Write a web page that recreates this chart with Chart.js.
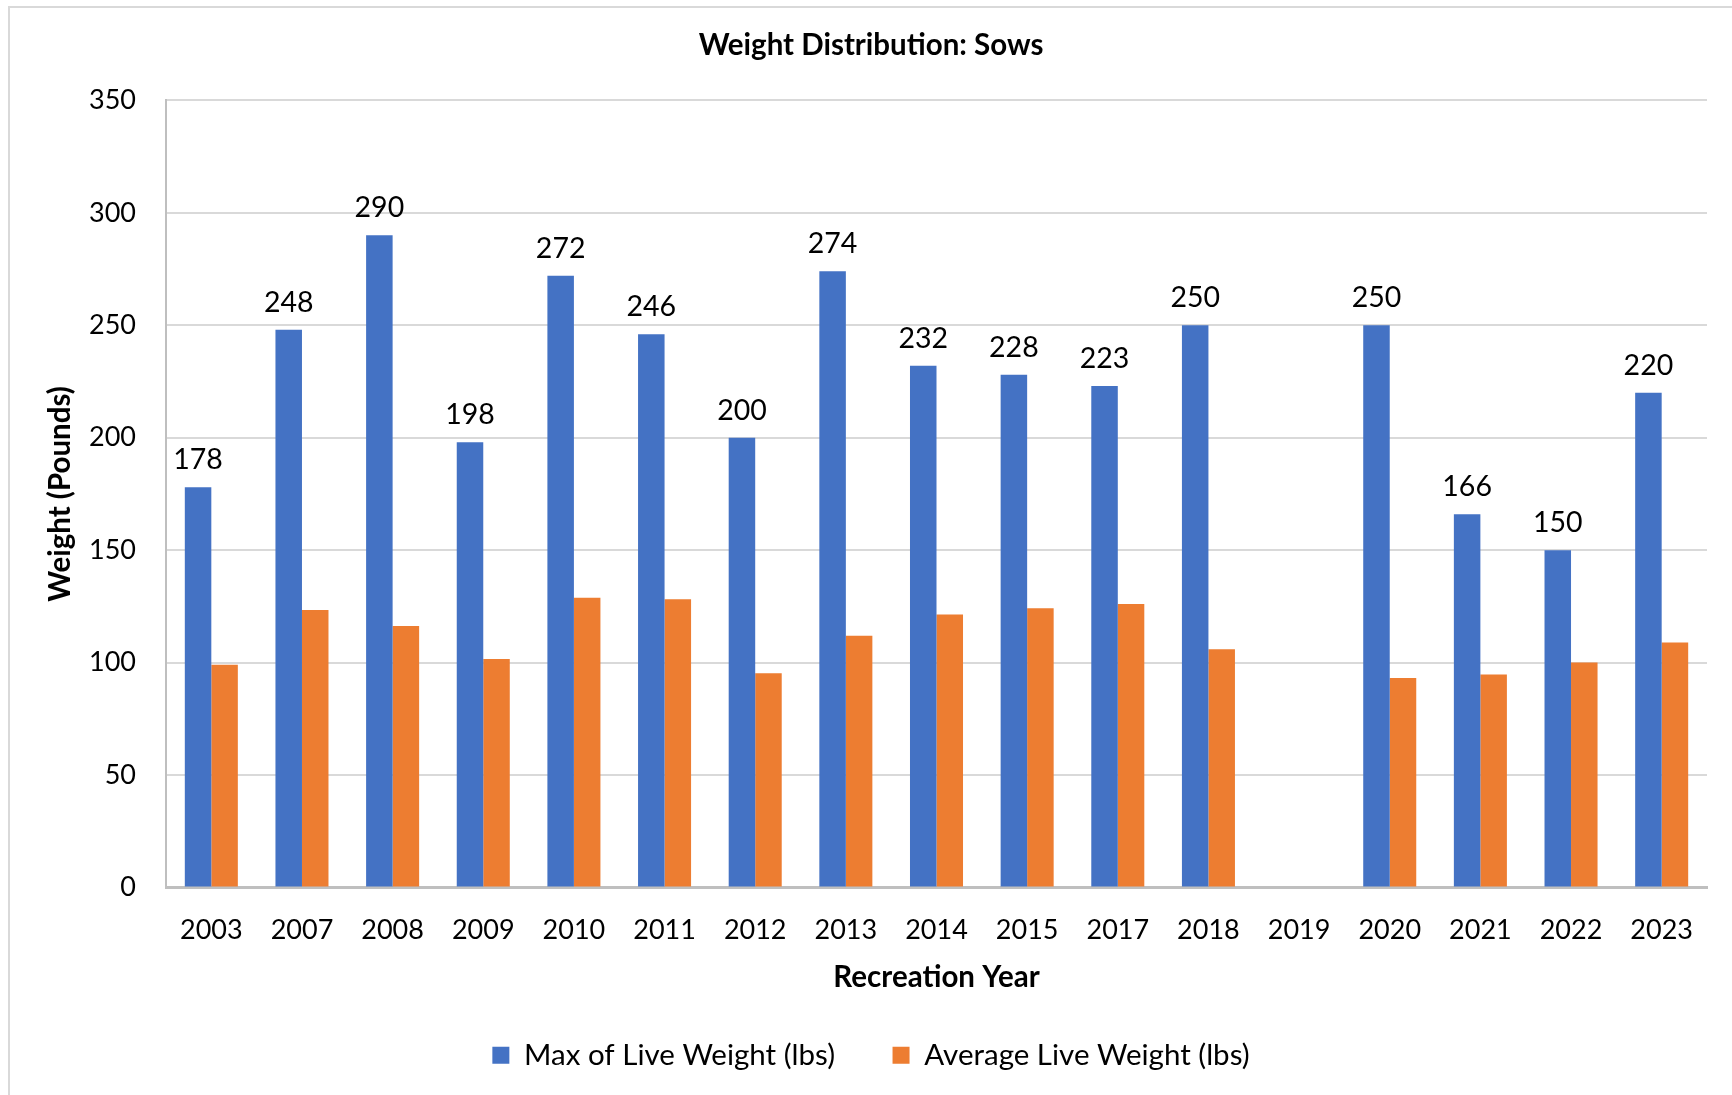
<!DOCTYPE html>
<html>
<head>
<meta charset="utf-8">
<script src="https://cdn.jsdelivr.net/npm/chart.js@4.4.1/dist/chart.umd.min.js"></script>
<style>
  html, body { margin: 0; padding: 0; background: #fff; }
  #frame { position: absolute; left: 8px; top: 6px; width: 1740px; height: 1110px; border: 2px solid #d9d9d9; box-sizing: border-box; }
  #wrap { position: absolute; left: 0; top: 0; width: 1732px; height: 1095px; }
</style>
</head>
<body>
<div id="frame"></div>
<div id="wrap"><canvas id="sows"></canvas></div>
<script>
// Data
const years = ['2003', '2007', '2008', '2009', '2010', '2011', '2012', '2013', '2014', '2015', '2017', '2018', '2019', '2020', '2021', '2022', '2023'];
const maxWeight = [178, 248, 290, 198, 272, 246, 200, 274, 232, 228, 223, 250, null, 250, 166, 150, 220];
const avgWeight = [99, 123.4, 116.3, 101.6, 128.8, 128.2, 95.3, 111.9, 121.4, 124.2, 126.1, 105.9, null, 93.2, 94.7, 100, 108.9];
const yTicks = [0, 50, 100, 150, 200, 250, 300, 350];

const fontFamily = 'Lato, "Open Sans", sans-serif';

// Value labels on top of the blue bars
const barLabels = {
  id: 'barLabels',
  afterDatasetsDraw(chart) {
    const ctx = chart.ctx;
    const meta = chart.getDatasetMeta(0);
    ctx.save();
    ctx.font = '28.5px ' + fontFamily;
    ctx.fillStyle = '#000';
    ctx.textAlign = 'center';
    ctx.textBaseline = 'bottom';
    meta.data.forEach((bar, i) => {
      if (maxWeight[i] == null) return;
      ctx.fillText(String(maxWeight[i]), bar.x, bar.y - 13);
    });
    ctx.restore();
  }
};

const ctx = document.getElementById('sows').getContext('2d');
const sowsChart = new Chart(ctx, {
  type: 'bar',
  data: {
    labels: years,
    datasets: [{
      label: 'Max of Live Weight (lbs)',
      data: maxWeight,
      backgroundColor: '#4472C4'
    }, {
      label: 'Average Live Weight (lbs)',
      data: avgWeight,
      backgroundColor: '#ED7D31'
    }]
  },
  options: {
    responsive: true,
    maintainAspectRatio: false,
    animation: false,
    layout: {
      padding: { left: 35, right: 25, top: 10, bottom: 15 }
    },
    datasets: {
      bar: {
        categoryPercentage: 0.585,
        barPercentage: 1.0
      }
    },
    plugins: {
      title: {
        display: true,
        text: 'Weight Distribution: Sows',
        color: '#000',
        font: { family: fontFamily, size: 29.5, weight: 'bold' },
        padding: { top: 18, bottom: 37 }
      },
      legend: {
        position: 'bottom',
        labels: {
          color: '#000',
          font: { family: fontFamily, size: 29.5 },
          boxWidth: 17,
          boxHeight: 17,
          padding: 28,
          generateLabels(chart) {
            // extra gap after the first entry, as in the original
            const items = Chart.defaults.plugins.legend.labels.generateLabels(chart);
            items[0].text += '\u2002\u2002';
            return items;
          }
        }
      },
      tooltip: { enabled: false }
    },
    scales: {
      x: {
        afterFit(scale) { scale.height = 125; },
        grid: { display: false, drawTicks: false },
        border: { color: '#bfbfbf', width: 3 },
        ticks: {
          color: '#000',
          font: { family: fontFamily, size: 27 },
          padding: 27,
          maxRotation: 0
        },
        title: {
          display: true,
          text: 'Recreation Year',
          color: '#000',
          font: { family: fontFamily, size: 29.5, weight: 'bold' },
          padding: { top: 0, bottom: 17 }
        }
      },
      y: {
        min: 0,
        max: 350,
        afterFit(scale) { scale.width = 131; },
        afterBuildTicks(axis) {
          axis.ticks = yTicks.map(v => ({ value: v }));
        },
        grid: { color: '#d9d9d9', lineWidth: 2, drawTicks: false },
        border: { color: '#bfbfbf', width: 2 },
        ticks: {
          color: '#000',
          font: { family: fontFamily, size: 27 },
          padding: 30
        },
        title: {
          display: true,
          text: 'Weight (Pounds)',
          color: '#000',
          font: { family: fontFamily, size: 29.5, weight: 'bold' },
          padding: { top: 8, bottom: 9 }
        }
      }
    }
  },
  plugins: [barLabels]
});
</script>
</body>
</html>
